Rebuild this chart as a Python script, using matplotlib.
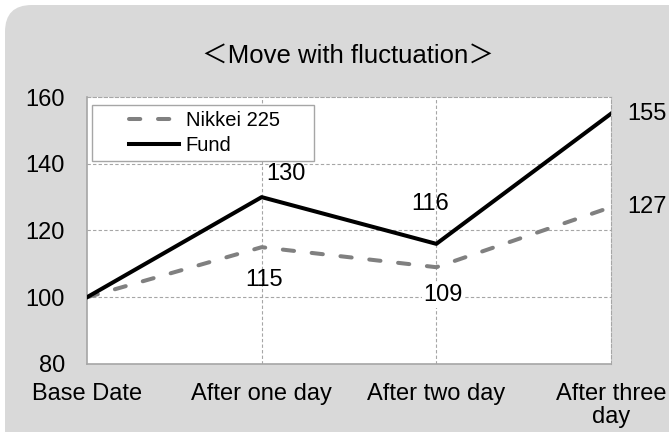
import matplotlib
matplotlib.use('Agg')
import matplotlib.pyplot as plt
from matplotlib.patches import FancyBboxPatch
from matplotlib.legend_handler import HandlerLine2D

# ─── DATA ──────────────────────────────────────────────────────────────────────
categories = ['Base Date', 'After one day', 'After two day', 'After three\nday']
nikkei = [100, 115, 109, 127]
fund = [100, 130, 116, 155]
y_ticks = [80, 100, 120, 140, 160]
title = '＜Move with fluctuation＞'

GRID = '#a6a6a6'
plt.rcParams['font.family'] = ['Liberation Sans', 'Noto Sans CJK JP', 'DejaVu Sans']


class ShiftedLine(HandlerLine2D):
    # leaves an empty gap on the left of the legend handle
    def __init__(self, shift, **kw):
        super().__init__(**kw)
        self.shift = shift

    def create_artists(self, legend, orig_handle, xdescent, ydescent,
                       width, height, fontsize, trans):
        return super().create_artists(legend, orig_handle, xdescent - self.shift,
                                      ydescent, width - self.shift, height,
                                      fontsize, trans)


fig = plt.figure(figsize=(6.69, 4.32), dpi=100)
fig.patch.set_facecolor('white')

# rounded grey panel behind everything
W, H = 669, 432
panel = FancyBboxPatch((5 / W, -0.2), 1.2, 1.2 - 5 / H,
                       boxstyle='round,pad=0,rounding_size=0.04',
                       transform=fig.transFigure, fc='#d9d9d9', ec='none',
                       mutation_aspect=W / H, zorder=-5)
fig.patches.append(panel)

ax = fig.add_axes([87 / W, 1 - 364 / H, (611 - 87) / W, (364 - 97) / H])
ax.set_zorder(2)
x = list(range(len(categories)))

l_nk, = ax.plot(x, nikkei, color='#808080', lw=2.9, dashes=(2.8, 4.4),
                dash_capstyle='round', label='Nikkei 225', zorder=3)
l_fd, = ax.plot(x, fund, color='black', lw=2.9, label='Fund', zorder=4)

ax.set_xlim(0, 3)
ax.set_ylim(80, 160)
ax.set_yticks(y_ticks)
ax.set_xticks(x)
ax.set_xticklabels(categories, linespacing=1.05)
ax.tick_params(length=0, labelsize=17)
ax.tick_params(axis='y', pad=16)
ax.tick_params(axis='x', pad=14)

# grid
for yv in y_ticks[1:-1]:
    ax.axhline(yv, color=GRID, lw=0.8, ls=(0, (3, 2)), zorder=1)
for xv in x[1:-1]:
    ax.axvline(xv, color=GRID, lw=0.8, ls=(0, (3, 2)), zorder=1)
for s in ['left', 'bottom']:
    ax.spines[s].set_color(GRID)
    ax.spines[s].set_linewidth(1.2)
for s in ['top', 'right']:
    ax.spines[s].set_color(GRID)
    ax.spines[s].set_linewidth(0.8)
    ax.spines[s].set_linestyle((0, (3, 2)))

# data labels (pixel offsets)
def lab(xi, yi, text, dx, dy, **kw):
    ax.annotate(text, (xi, yi), xytext=(dx * 0.72, dy * 0.72),
                textcoords='offset points', ha='center', va='center',
                fontsize=17, zorder=5, **kw)

lab(1, fund[1], str(fund[1]), 24, 23)
lab(1, nikkei[1], str(nikkei[1]), 2, -33)
lab(2, fund[2], str(fund[2]), -6, 40)
lab(2, nikkei[2], str(nikkei[2]), 7, -28,
    bbox=dict(fc='white', ec='none', pad=1))
for series in (fund, nikkei):
    ax.annotate(str(series[3]), (3, series[3]), xytext=(16 * 0.72, 0),
                textcoords='offset points', ha='left', va='center',
                fontsize=17, annotation_clip=False)

leg = ax.legend(handles=[l_nk, l_fd], loc='upper left',
                bbox_to_anchor=(0.0095, 0.0, 0.424, 0.970), mode='expand',
                fontsize=14.5, handlelength=4.0, handletextpad=0.35,
                labelspacing=0.3, borderpad=0.3, fancybox=False, framealpha=1,
                edgecolor=GRID, borderaxespad=0,
                handler_map={l_nk: ShiftedLine(22), l_fd: ShiftedLine(22)})
leg.get_frame().set_linewidth(1.0)

fig.text(348 / W, 1 - 56 / H, title, ha='center', va='center', fontsize=18.5)

fig.savefig('out.png', dpi=100)
